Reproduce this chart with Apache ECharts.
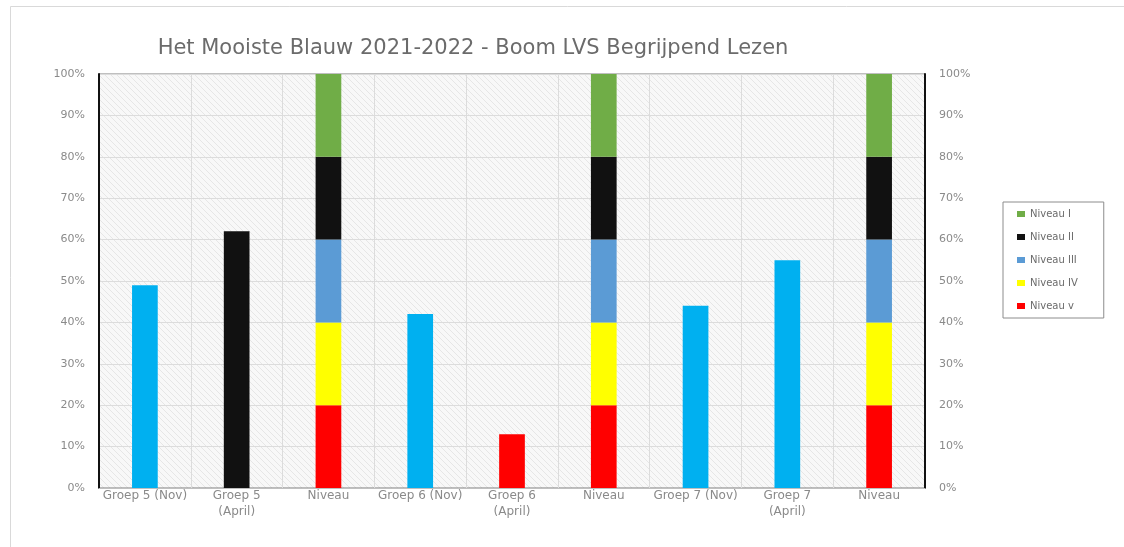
<!DOCTYPE html>
<html><head><meta charset="utf-8">
<script src="https://cdn.jsdelivr.net/npm/echarts@6/dist/echarts.min.js"></script>
<style>html,body{margin:0;padding:0;background:#fff}#c{width:1124px;height:547px}</style>
</head><body><div id="c"></div>
<script>
const categories = ['Groep 5 (Nov)', 'Groep 5\n(April)', 'Niveau', 'Groep 6 (Nov)', 'Groep 6\n(April)', 'Niveau', 'Groep 7 (Nov)', 'Groep 7\n(April)', 'Niveau'];
const scores = [49, 62, null, 42, 13, null, 44, 55, null];
const scoreColors = ['#00B0F0', '#111111', null, '#00B0F0', '#FF0000', null, '#00B0F0', '#00B0F0', null];
const niveauV = [null, null, 20, null, null, 20, null, null, 20];
const niveauIV = [null, null, 20, null, null, 20, null, null, 20];
const niveauIII = [null, null, 20, null, null, 20, null, null, 20];
const niveauII = [null, null, 20, null, null, 20, null, null, 20];
const niveauI = [null, null, 20, null, null, 20, null, null, 20];
const yTicks = [0, 10, 20, 30, 40, 50, 60, 70, 80, 90, 100];

const pc = document.createElement('canvas');
pc.width = 6; pc.height = 6;
const g = pc.getContext('2d');
g.fillStyle = '#f8f8f8'; g.fillRect(0, 0, 6, 6);
g.strokeStyle = '#e6e6e6'; g.lineWidth = 1;
g.beginPath(); g.moveTo(-1, -1); g.lineTo(7, 7); g.moveTo(-4, 2); g.lineTo(4, 10); g.moveTo(2, -4); g.lineTo(10, 4); g.stroke();

const chart = echarts.init(document.getElementById('c'));
const font = 'DejaVu Sans';
const axisLabel = {color: '#8a8a8a', fontSize: 11, fontFamily: font, formatter: v => v + '%'};
function niv(name, data, color) {
  return {name, type: 'bar', stack: 's', data, barWidth: '28%', itemStyle: {color}};
}
chart.setOption({
  animation: false,
  title: {text: 'Het Mooiste Blauw 2021-2022 - Boom LVS Begrijpend Lezen', left: 468, top: 33, textAlign: 'center',
    textStyle: {color: '#6b6b6b', fontSize: 21, fontWeight: 'normal', fontFamily: font}},
  graphic: [{type: 'rect', shape: {x: 10.5, y: 6.5, width: 1130, height: 560}, style: {fill: null, stroke: '#d9d9d9', lineWidth: 1}, silent: true, z: -1}],
  legend: {orient: 'vertical', left: 1003, top: 202, width: 100, itemWidth: 8, itemHeight: 6, itemGap: 13,
    padding: [7, 26, 7, 14], borderColor: '#8c8c8c', borderWidth: 1,
    textStyle: {color: '#6b6b6b', fontSize: 10, fontFamily: font},
    data: ['Niveau I', 'Niveau II', 'Niveau III', 'Niveau IV', 'Niveau v'], icon: 'rect'},
  grid: {left: 99, right: 199, top: 74, bottom: 59, show: true, backgroundColor: {image: pc, repeat: 'repeat'}, borderColor: '#7f7f7f', borderWidth: 1},
  xAxis: {type: 'category', data: categories,
    axisLine: {lineStyle: {color: '#bfbfbf'}}, axisTick: {show: false},
    splitLine: {show: true, lineStyle: {color: '#dcdcdc', width: 1}},
    axisLabel: {color: '#8a8a8a', fontSize: 12, fontFamily: font, interval: 0, margin: 0, lineHeight: 16}},
  yAxis: [
    {type: 'value', min: 0, max: 100, interval: 10, position: 'left',
      axisLine: {show: true, lineStyle: {color: '#111', width: 2}}, axisTick: {show: false},
      splitLine: {lineStyle: {color: '#dcdcdc'}}, axisLabel: Object.assign({margin: 14}, axisLabel)},
    {type: 'value', min: 0, max: 100, interval: 10, position: 'right',
      axisLine: {show: true, lineStyle: {color: '#111', width: 2}}, axisTick: {show: false},
      splitLine: {show: false}, axisLabel: Object.assign({margin: 14}, axisLabel)}
  ],
  series: [
    {name: 'Score', type: 'bar', stack: 's', barWidth: '28%',
      data: scores.map((v, i) => v == null ? null : {value: v, itemStyle: {color: scoreColors[i]}})},
    niv('Niveau v', niveauV, '#FF0000'),
    niv('Niveau IV', niveauIV, '#FFFF00'),
    niv('Niveau III', niveauIII, '#5B9BD5'),
    niv('Niveau II', niveauII, '#111111'),
    niv('Niveau I', niveauI, '#70AD47')
  ]
});
</script></body></html>
